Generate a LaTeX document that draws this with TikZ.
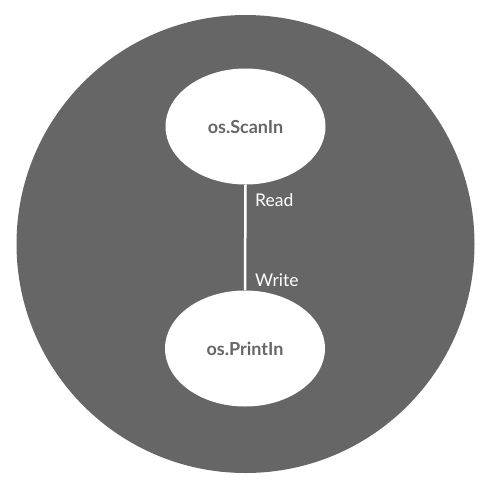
\documentclass[tikz,border=0pt]{standalone}
\usepackage{fontspec}
\setmainfont{Lato}
\usetikzlibrary{shapes.geometric}
\definecolor{bggray}{HTML}{666666}
\begin{document}
\begin{tikzpicture}[x=1pt,y=-1pt,
  proc/.style={ellipse, fill=white, minimum width=160pt, minimum height=116pt, inner sep=0pt,
    text=bggray, font=\fontsize{18}{20}\selectfont\bfseries},
  lbl/.style={text=white, font=\fontsize{17.5}{20}\selectfont, anchor=base west, inner sep=0pt}]
\useasboundingbox (0,0) rectangle (490,488);
\fill[bggray] (245.5,244) circle[radius=229];
\node[proc] (scan) at (245.5,126.5) {os.ScanIn};
\node[proc] (print) at (245,348.5) {os.PrintIn};
\draw[white, line width=2.5pt] (scan.south) -- (print.north);
\node[lbl] (read) at (255,206) {Read};
\node[lbl] (write) at (255,286) {Write};
\end{tikzpicture}
\end{document}
